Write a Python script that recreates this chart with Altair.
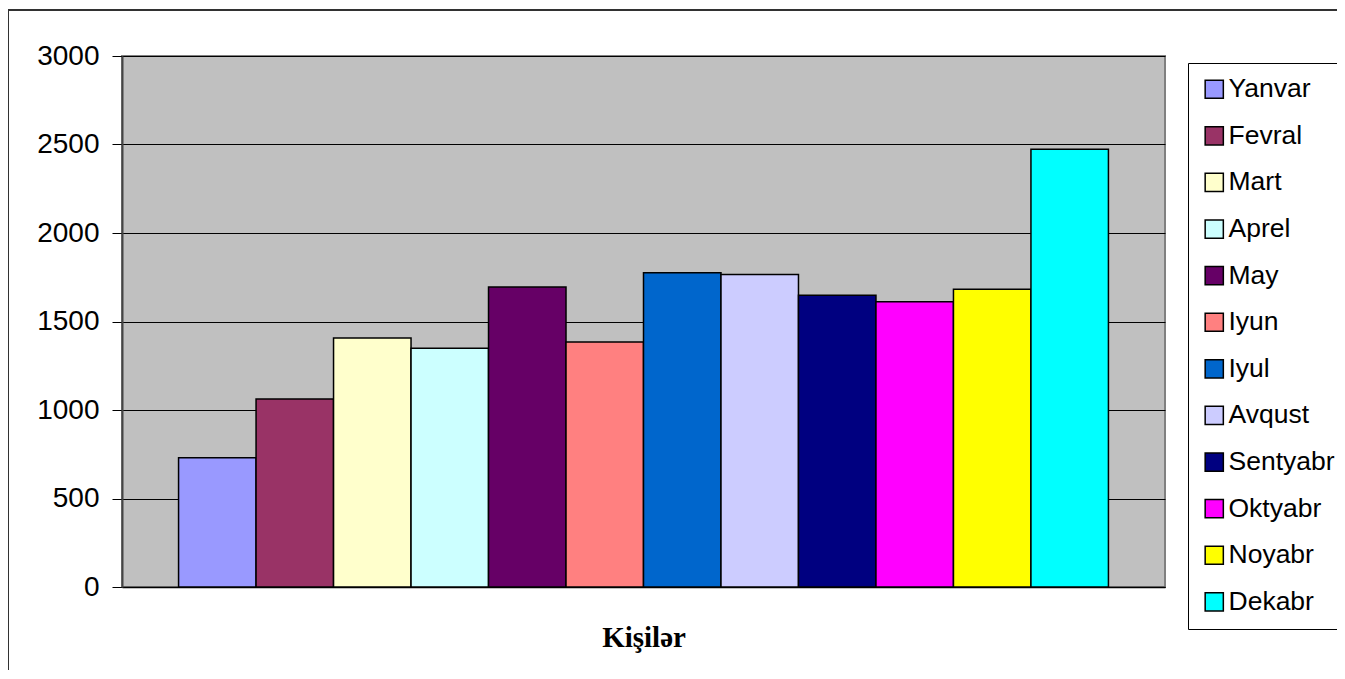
import altair as alt
import pandas as pd

months = ["Yanvar", "Fevral", "Mart", "Aprel", "May", "Iyun", "Iyul",
          "Avqust", "Sentyabr", "Oktyabr", "Noyabr", "Dekabr"]
values = [730, 1062, 1407, 1349, 1695, 1384, 1776, 1765, 1648, 1612, 1682, 2473]
colors = ["#9999FF", "#993366", "#FFFFCC", "#CCFFFF", "#660066", "#FF8080",
          "#0066CC", "#CCCCFF", "#000080", "#FF00FF", "#FFFF00", "#00FFFF"]
y_ticks = [0, 500, 1000, 1500, 2000, 2500, 3000]
group_label = "Kişilər"

df = pd.DataFrame({"month": months, "value": values})

W, H = 1043, 531
PAD_L, PAD_T, PAD_R, PAD_B = 114, 48, 172, 83

bars = alt.Chart(df).mark_bar(stroke="black", strokeWidth=1.5).encode(
    x=alt.X("month:N", sort=months,
            scale=alt.Scale(paddingInner=0, paddingOuter=0.73),
            axis=alt.Axis(title=group_label, labels=False, ticks=False,
                          domain=True, domainColor="black", domainWidth=1.5,
                          titleFont="Liberation Serif", titleFontWeight="bold",
                          titleFontSize=29, titleColor="black", titlePadding=36)),
    y=alt.Y("value:Q", scale=alt.Scale(domain=[0, 3000], nice=False),
            axis=alt.Axis(title=None, values=y_ticks, format="d", grid=True,
                          gridColor="black", gridWidth=1, tickColor="black",
                          tickSize=10, tickWidth=1,
                          domainColor="#444444", domainWidth=2,
                          labelFont="Liberation Sans", labelFontSize=28,
                          labelColor="black", labelPadding=13)),
    color=alt.Color("month:N", sort=months,
                    scale=alt.Scale(domain=months, range=colors),
                    legend=alt.Legend(title=None, orient="none",
                                      legendX=1066, legendY=7,
                                      symbolType="square", symbolSize=330,
                                      symbolStrokeColor="black", symbolStrokeWidth=1.5,
                                      labelFont="Liberation Sans", labelFontSize=26.5,
                                      labelColor="black", labelOffset=1,
                                      rowPadding=19.6, padding=13,
                                      strokeColor="black", fillColor="white")),
)

frame = alt.Chart(df).mark_rect(fill=None, stroke="#333333", strokeWidth=1.5).encode(
    x=alt.value(-PAD_L), x2=alt.value(W + PAD_R + 20),
    y=alt.value(-PAD_T + 2), y2=alt.value(H + PAD_B + 20),
)

chart = alt.layer(bars, frame).properties(
    width=W, height=H,
    background="white",
    autosize=alt.AutoSizeParams(type="none"),
    padding={"left": PAD_L, "top": PAD_T, "right": PAD_R, "bottom": PAD_B},
).configure_view(
    fill="#C0C0C0", stroke="#808080", strokeWidth=2
)

chart.save("out.html", embed_options={"renderer": "svg", "actions": False})
